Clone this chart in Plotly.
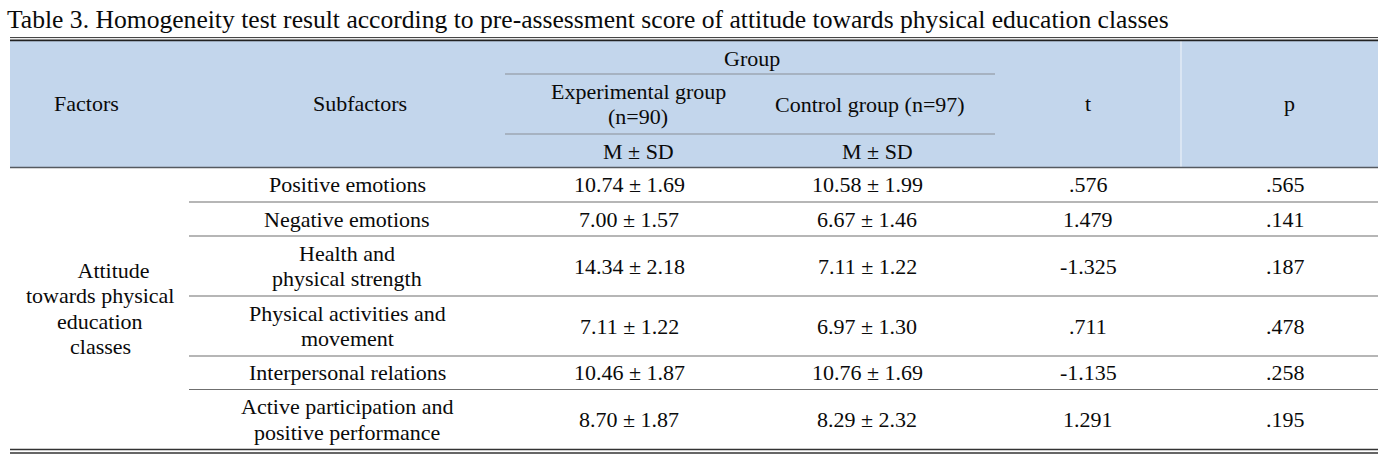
import plotly.graph_objects as go

# ---------------- data ----------------
title = ("Table 3. Homogeneity test result according to pre-assessment score of "
         "attitude towards physical education classes")
factor_label = "\u00a0\u00a0\u00a0\u00a0\u00a0Attitude<br>towards physical<br>education<br>classes"
subfactors = [
    "Positive emotions",
    "Negative emotions",
    "Health and<br>physical strength",
    "Physical activities and<br>movement",
    "Interpersonal relations",
    "Active participation and<br>positive performance",
]
exp_mean = ["10.74", "7.00", "14.34", "7.11", "10.46", "8.70"]
exp_sd = ["1.69", "1.57", "2.18", "1.22", "1.87", "1.87"]
ctrl_mean = ["10.58", "6.67", "7.11", "6.97", "10.76", "8.29"]
ctrl_sd = ["1.99", "1.46", "1.22", "1.30", "1.69", "2.32"]
t_values = [".576", "1.479", "-1.325", ".711", "-1.135", "1.291"]
p_values = [".565", ".141", ".187", ".478", ".258", ".195"]

header_main = ["Factors", "Subfactors", "t", "p"]
header_group = "Group"
header_sub = ["Experimental group<br>(n=90)", "Control group (n=97)"]
header_stat = ["M \u00b1 SD", "M \u00b1 SD"]

# ---------------- layout geometry ----------------
W, H = 1397, 456
X_LEFT, X_RIGHT = 10, 1378
X_FAC_END, X_SUB_END, X_GRP_END, X_T_END = 189, 505, 995, 1181
Y_TOP, Y_GRP, Y_SUBH, Y_HEAD = 40, 74, 134, 167.5
row_bounds = [167.5, 202, 236, 296, 356, 389.5, 449.5]

CX_FAC_H, CX_FAC = 86, 100
CX_SUB = 347
CX_EXP_H, CX_CTRL_H = 638, 872
CX_EXP, CX_CTRL = 629, 867
CX_T, CX_P = 1088, 1285
CX_GRP = (X_SUB_END + X_GRP_END) / 2
LINE_H = 25.5

FONT = dict(family="Liberation Serif, Times New Roman, serif", size=22, color="#0a0a0a")
BLUE = "#C3D6EC"

fig = go.Figure()
shapes = []
shapes.append(dict(type="rect", x0=X_LEFT, x1=X_RIGHT, y0=Y_TOP, y1=Y_HEAD,
                   fillcolor=BLUE, line=dict(width=0), layer="below"))
shapes.append(dict(type="line", x0=X_T_END, x1=X_T_END, y0=Y_TOP + 1, y1=Y_HEAD,
                   line=dict(color="#F2F6FB", width=1)))
shapes.append(dict(type="line", x0=X_LEFT, x1=X_RIGHT, y0=37.6, y1=37.6,
                   line=dict(color="#333333", width=1)))
shapes.append(dict(type="line", x0=X_LEFT, x1=X_RIGHT, y0=40.4, y1=40.4,
                   line=dict(color="#222222", width=1.6)))
for yy in (Y_GRP, Y_SUBH):
    shapes.append(dict(type="line", x0=X_SUB_END, x1=X_GRP_END, y0=yy, y1=yy,
                       line=dict(color="#8A8F96", width=1)))
shapes.append(dict(type="line", x0=X_LEFT, x1=X_RIGHT, y0=Y_HEAD, y1=Y_HEAD,
                   line=dict(color="#555a60", width=1.5)))
for yy in row_bounds[1:-1]:
    shapes.append(dict(type="line", x0=X_FAC_END, x1=X_RIGHT, y0=yy, y1=yy,
                       line=dict(color="#6f6f6f", width=1.2)))
for yy in (449.5, 453.0):
    shapes.append(dict(type="line", x0=X_LEFT, x1=X_RIGHT, y0=yy, y1=yy,
                       line=dict(color="#333333", width=1.3)))

ann = []
def txt(x, y, s, xanchor="center", size=None):
    f = dict(FONT)
    if size:
        f["size"] = size
    lines = s.split("<br>")
    n = len(lines)
    for k, ln in enumerate(lines):
        yy = y + (k - (n - 1) / 2) * LINE_H
        ann.append(dict(x=x, y=yy, xref="x", yref="y", text=ln, showarrow=False,
                        xanchor=xanchor, yanchor="middle", align="center", font=f))

# title
txt(5, 19, title, xanchor="left", size=25.6)

yh = (Y_TOP + Y_HEAD) / 2
for s, cx in zip(header_main, [CX_FAC_H, CX_SUB + 13, CX_T, CX_P + 4]):
    txt(cx, yh, s)
txt(CX_GRP + 2, (Y_TOP + Y_GRP) / 2 + 1, header_group)
for s, cx in zip(header_sub, [CX_EXP_H, CX_CTRL_H - 2]):
    txt(cx, (Y_GRP + Y_SUBH) / 2, s)
for s, cx in zip(header_stat, [CX_EXP_H, CX_CTRL_H + 5]):
    txt(cx, (Y_SUBH + Y_HEAD) / 2 + 1, s)

txt(CX_FAC, (row_bounds[0] + row_bounds[-1]) / 2, factor_label)

for i in range(len(subfactors)):
    yc = (row_bounds[i] + row_bounds[i + 1]) / 2
    txt(CX_SUB, yc, subfactors[i])
    txt(CX_EXP, yc, f"{exp_mean[i]} \u00b1 {exp_sd[i]}")
    txt(CX_CTRL, yc, f"{ctrl_mean[i]} \u00b1 {ctrl_sd[i]}")
    txt(CX_T, yc, t_values[i])
    txt(CX_P, yc, p_values[i])

fig.update_layout(
    width=W, height=H,
    margin=dict(l=0, r=0, t=0, b=0),
    paper_bgcolor="white", plot_bgcolor="white",
    xaxis=dict(range=[0, W], visible=False, fixedrange=True),
    yaxis=dict(range=[H, 0], visible=False, fixedrange=True),
    shapes=shapes, annotations=ann, showlegend=False,
)
fig.write_html("out.html", config={"displayModeBar": False},
               post_script="document.body.style.margin='0';document.body.style.overflow='hidden';")
